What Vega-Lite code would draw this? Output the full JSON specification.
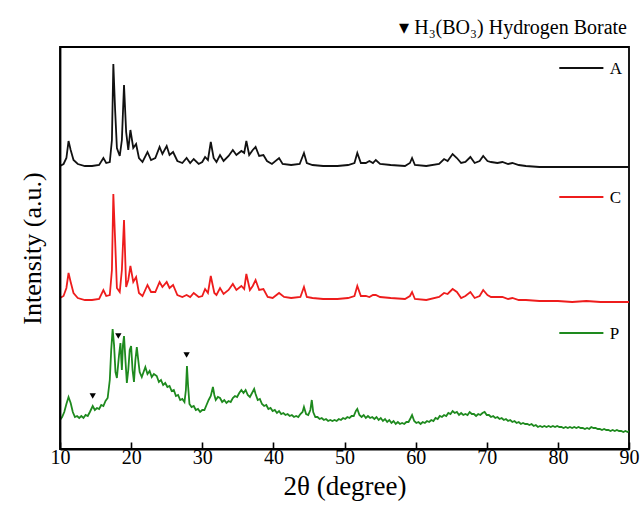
{
  "$schema": "https://vega.github.io/schema/vega-lite/v6.json",
  "width": 569,
  "height": 402,
  "autosize": {"type": "none"},
  "padding": {"left": 60, "top": 47, "right": 15, "bottom": 71},
  "background": "white",
  "view": {"stroke": "black", "strokeWidth": 1.8},
  "config": {
    "font": "Liberation Serif",
    "axis": {"labelFont": "Liberation Serif", "titleFont": "Liberation Serif", "titleFontWeight": "normal"}
  },
  "title": {
    "text": "▾ H₃(BO₃) Hydrogen Borate",
    "anchor": "end",
    "font": "Liberation Serif",
    "fontSize": 20,
    "fontWeight": "normal",
    "color": "black",
    "offset": 9,
    "dx": -12
  },
  "datasets": {
    "spectra": [
      {"s":"A","t":10.0,"i":287},{"s":"A","t":10.5,"i":289},{"s":"A","t":10.9,"i":295},{"s":"A","t":11.2,"i":312},{"s":"A","t":11.5,"i":303},{"s":"A","t":11.9,"i":293},{"s":"A","t":12.5,"i":289},{"s":"A","t":13.5,"i":287},{"s":"A","t":14.5,"i":287},{"s":"A","t":15.5,"i":288},{"s":"A","t":16.1,"i":295},{"s":"A","t":16.5,"i":290},{"s":"A","t":17.0,"i":291},{"s":"A","t":17.3,"i":313},{"s":"A","t":17.5,"i":389},{"s":"A","t":17.75,"i":343},{"s":"A","t":18.0,"i":305},{"s":"A","t":18.4,"i":297},{"s":"A","t":18.7,"i":313},{"s":"A","t":19.0,"i":368},{"s":"A","t":19.3,"i":321},{"s":"A","t":19.6,"i":303},{"s":"A","t":19.9,"i":323},{"s":"A","t":20.3,"i":305},{"s":"A","t":20.7,"i":309},{"s":"A","t":21.1,"i":295},{"s":"A","t":21.6,"i":291},{"s":"A","t":22.3,"i":301},{"s":"A","t":22.8,"i":293},{"s":"A","t":23.4,"i":295},{"s":"A","t":24.0,"i":306},{"s":"A","t":24.4,"i":299},{"s":"A","t":25.0,"i":307},{"s":"A","t":25.4,"i":298},{"s":"A","t":25.9,"i":301},{"s":"A","t":26.5,"i":292},{"s":"A","t":27.2,"i":290},{"s":"A","t":27.8,"i":295},{"s":"A","t":28.3,"i":290},{"s":"A","t":28.8,"i":294},{"s":"A","t":29.5,"i":289},{"s":"A","t":30.0,"i":291},{"s":"A","t":30.4,"i":296},{"s":"A","t":30.8,"i":293},{"s":"A","t":31.2,"i":311},{"s":"A","t":31.6,"i":295},{"s":"A","t":32.0,"i":291},{"s":"A","t":32.5,"i":298},{"s":"A","t":33.0,"i":292},{"s":"A","t":33.7,"i":297},{"s":"A","t":34.3,"i":303},{"s":"A","t":34.8,"i":298},{"s":"A","t":35.5,"i":302},{"s":"A","t":35.9,"i":300},{"s":"A","t":36.2,"i":312},{"s":"A","t":36.6,"i":298},{"s":"A","t":37.1,"i":303},{"s":"A","t":37.5,"i":306},{"s":"A","t":38.0,"i":297},{"s":"A","t":38.6,"i":298},{"s":"A","t":39.1,"i":292},{"s":"A","t":39.8,"i":289},{"s":"A","t":40.8,"i":295},{"s":"A","t":41.3,"i":289},{"s":"A","t":42.5,"i":288},{"s":"A","t":43.7,"i":289},{"s":"A","t":44.3,"i":300},{"s":"A","t":44.7,"i":290},{"s":"A","t":45.5,"i":288},{"s":"A","t":47.0,"i":287},{"s":"A","t":49.0,"i":287},{"s":"A","t":50.5,"i":288},{"s":"A","t":51.4,"i":290},{"s":"A","t":51.8,"i":300},{"s":"A","t":52.3,"i":290},{"s":"A","t":53.0,"i":290},{"s":"A","t":53.5,"i":292},{"s":"A","t":54.0,"i":290},{"s":"A","t":54.4,"i":293},{"s":"A","t":55.0,"i":289},{"s":"A","t":56.5,"i":288},{"s":"A","t":58.5,"i":287},{"s":"A","t":59.2,"i":290},{"s":"A","t":59.5,"i":295},{"s":"A","t":59.9,"i":288},{"s":"A","t":61.5,"i":287},{"s":"A","t":63.3,"i":289},{"s":"A","t":64.0,"i":294},{"s":"A","t":64.5,"i":292},{"s":"A","t":65.2,"i":299},{"s":"A","t":65.8,"i":295},{"s":"A","t":66.4,"i":290},{"s":"A","t":67.0,"i":291},{"s":"A","t":67.7,"i":296},{"s":"A","t":68.3,"i":290},{"s":"A","t":69.0,"i":292},{"s":"A","t":69.5,"i":297},{"s":"A","t":70.1,"i":292},{"s":"A","t":70.6,"i":291},{"s":"A","t":71.5,"i":290},{"s":"A","t":72.2,"i":291},{"s":"A","t":73.0,"i":289},{"s":"A","t":73.6,"i":290},{"s":"A","t":74.5,"i":288},{"s":"A","t":75.5,"i":287},{"s":"A","t":77.4,"i":286},{"s":"A","t":80.0,"i":286},{"s":"A","t":83.0,"i":286},{"s":"A","t":86.0,"i":286},{"s":"A","t":90.0,"i":286},
      {"s":"C","t":10.0,"i":155},{"s":"C","t":10.5,"i":157},{"s":"C","t":10.9,"i":165},{"s":"C","t":11.2,"i":180},{"s":"C","t":11.5,"i":171},{"s":"C","t":11.9,"i":160},{"s":"C","t":12.5,"i":155},{"s":"C","t":13.5,"i":153},{"s":"C","t":14.5,"i":153},{"s":"C","t":15.5,"i":154},{"s":"C","t":16.1,"i":163},{"s":"C","t":16.5,"i":157},{"s":"C","t":17.0,"i":158},{"s":"C","t":17.3,"i":183},{"s":"C","t":17.5,"i":259},{"s":"C","t":17.75,"i":213},{"s":"C","t":18.0,"i":165},{"s":"C","t":18.4,"i":161},{"s":"C","t":18.7,"i":183},{"s":"C","t":19.0,"i":233},{"s":"C","t":19.3,"i":166},{"s":"C","t":19.6,"i":173},{"s":"C","t":19.9,"i":187},{"s":"C","t":20.3,"i":171},{"s":"C","t":20.7,"i":176},{"s":"C","t":21.1,"i":160},{"s":"C","t":21.6,"i":157},{"s":"C","t":22.3,"i":168},{"s":"C","t":22.8,"i":161},{"s":"C","t":23.4,"i":161},{"s":"C","t":24.0,"i":171},{"s":"C","t":24.4,"i":166},{"s":"C","t":25.0,"i":171},{"s":"C","t":25.4,"i":165},{"s":"C","t":25.9,"i":168},{"s":"C","t":26.5,"i":158},{"s":"C","t":27.2,"i":156},{"s":"C","t":27.8,"i":158},{"s":"C","t":28.3,"i":156},{"s":"C","t":28.8,"i":160},{"s":"C","t":29.5,"i":156},{"s":"C","t":30.0,"i":157},{"s":"C","t":30.4,"i":164},{"s":"C","t":30.8,"i":160},{"s":"C","t":31.2,"i":177},{"s":"C","t":31.7,"i":160},{"s":"C","t":32.0,"i":158},{"s":"C","t":32.5,"i":165},{"s":"C","t":33.0,"i":159},{"s":"C","t":33.7,"i":163},{"s":"C","t":34.3,"i":169},{"s":"C","t":34.8,"i":163},{"s":"C","t":35.5,"i":167},{"s":"C","t":35.9,"i":164},{"s":"C","t":36.2,"i":179},{"s":"C","t":36.7,"i":163},{"s":"C","t":37.1,"i":167},{"s":"C","t":37.5,"i":173},{"s":"C","t":38.0,"i":163},{"s":"C","t":38.6,"i":164},{"s":"C","t":39.2,"i":156},{"s":"C","t":39.9,"i":155},{"s":"C","t":40.8,"i":160},{"s":"C","t":41.5,"i":156},{"s":"C","t":42.5,"i":155},{"s":"C","t":43.8,"i":156},{"s":"C","t":44.3,"i":166},{"s":"C","t":44.7,"i":156},{"s":"C","t":45.5,"i":155},{"s":"C","t":47.0,"i":154},{"s":"C","t":49.0,"i":154},{"s":"C","t":50.5,"i":155},{"s":"C","t":51.4,"i":157},{"s":"C","t":51.8,"i":167},{"s":"C","t":52.3,"i":157},{"s":"C","t":53.0,"i":157},{"s":"C","t":53.5,"i":156},{"s":"C","t":54.0,"i":158},{"s":"C","t":54.4,"i":158},{"s":"C","t":55.0,"i":156},{"s":"C","t":56.5,"i":155},{"s":"C","t":58.5,"i":154},{"s":"C","t":59.2,"i":157},{"s":"C","t":59.5,"i":161},{"s":"C","t":59.9,"i":154},{"s":"C","t":61.5,"i":153},{"s":"C","t":63.3,"i":156},{"s":"C","t":64.0,"i":160},{"s":"C","t":64.5,"i":159},{"s":"C","t":65.2,"i":164},{"s":"C","t":65.8,"i":161},{"s":"C","t":66.4,"i":155},{"s":"C","t":67.0,"i":157},{"s":"C","t":67.7,"i":161},{"s":"C","t":68.3,"i":155},{"s":"C","t":69.0,"i":157},{"s":"C","t":69.5,"i":163},{"s":"C","t":70.1,"i":158},{"s":"C","t":70.6,"i":156},{"s":"C","t":71.5,"i":156},{"s":"C","t":72.2,"i":156},{"s":"C","t":73.0,"i":154},{"s":"C","t":73.6,"i":155},{"s":"C","t":74.5,"i":153},{"s":"C","t":75.5,"i":153},{"s":"C","t":77.4,"i":152},{"s":"C","t":80.0,"i":152},{"s":"C","t":82.0,"i":151},{"s":"C","t":84.0,"i":152},{"s":"C","t":86.0,"i":151},{"s":"C","t":90.0,"i":151},
      {"s":"P","t":10.0,"i":33},{"s":"P","t":10.3,"i":36},{"s":"P","t":10.6,"i":41},{"s":"P","t":10.9,"i":49},{"s":"P","t":11.2,"i":56},{"s":"P","t":11.5,"i":50},{"s":"P","t":11.8,"i":41},{"s":"P","t":12.1,"i":36},{"s":"P","t":12.4,"i":37},{"s":"P","t":12.7,"i":35},{"s":"P","t":13.0,"i":37},{"s":"P","t":13.3,"i":35},{"s":"P","t":13.6,"i":38},{"s":"P","t":13.9,"i":37},{"s":"P","t":14.2,"i":41},{"s":"P","t":14.6,"i":47},{"s":"P","t":14.9,"i":43},{"s":"P","t":15.2,"i":45},{"s":"P","t":15.5,"i":44},{"s":"P","t":15.8,"i":48},{"s":"P","t":16.1,"i":47},{"s":"P","t":16.4,"i":52},{"s":"P","t":16.7,"i":55},{"s":"P","t":17.0,"i":73},{"s":"P","t":17.2,"i":103},{"s":"P","t":17.4,"i":124},{"s":"P","t":17.6,"i":108},{"s":"P","t":17.8,"i":81},{"s":"P","t":18.0,"i":75},{"s":"P","t":18.3,"i":98},{"s":"P","t":18.5,"i":110},{"s":"P","t":18.7,"i":83},{"s":"P","t":18.85,"i":108},{"s":"P","t":19.0,"i":117},{"s":"P","t":19.2,"i":93},{"s":"P","t":19.4,"i":70},{"s":"P","t":19.6,"i":83},{"s":"P","t":19.8,"i":103},{"s":"P","t":20.0,"i":107},{"s":"P","t":20.2,"i":83},{"s":"P","t":20.4,"i":71},{"s":"P","t":20.6,"i":93},{"s":"P","t":20.8,"i":106},{"s":"P","t":21.0,"i":93},{"s":"P","t":21.2,"i":81},{"s":"P","t":21.5,"i":76},{"s":"P","t":21.8,"i":82},{"s":"P","t":22.0,"i":86},{"s":"P","t":22.3,"i":79},{"s":"P","t":22.6,"i":82},{"s":"P","t":22.9,"i":76},{"s":"P","t":23.2,"i":79},{"s":"P","t":23.6,"i":77},{"s":"P","t":23.9,"i":71},{"s":"P","t":24.2,"i":73},{"s":"P","t":24.5,"i":68},{"s":"P","t":24.8,"i":70},{"s":"P","t":25.1,"i":66},{"s":"P","t":25.4,"i":67},{"s":"P","t":25.7,"i":62},{"s":"P","t":26.0,"i":63},{"s":"P","t":26.3,"i":57},{"s":"P","t":26.6,"i":58},{"s":"P","t":26.9,"i":53},{"s":"P","t":27.2,"i":54},{"s":"P","t":27.5,"i":51},{"s":"P","t":27.7,"i":63},{"s":"P","t":27.85,"i":87},{"s":"P","t":28.0,"i":68},{"s":"P","t":28.2,"i":49},{"s":"P","t":28.5,"i":46},{"s":"P","t":28.8,"i":47},{"s":"P","t":29.1,"i":43},{"s":"P","t":29.4,"i":44},{"s":"P","t":29.7,"i":41},{"s":"P","t":30.0,"i":43},{"s":"P","t":30.3,"i":43},{"s":"P","t":30.6,"i":48},{"s":"P","t":30.9,"i":53},{"s":"P","t":31.2,"i":57},{"s":"P","t":31.5,"i":66},{"s":"P","t":31.7,"i":58},{"s":"P","t":31.9,"i":53},{"s":"P","t":32.2,"i":56},{"s":"P","t":32.5,"i":55},{"s":"P","t":32.8,"i":51},{"s":"P","t":33.1,"i":53},{"s":"P","t":33.4,"i":50},{"s":"P","t":33.7,"i":52},{"s":"P","t":34.0,"i":51},{"s":"P","t":34.3,"i":55},{"s":"P","t":34.6,"i":57},{"s":"P","t":34.9,"i":56},{"s":"P","t":35.2,"i":60},{"s":"P","t":35.5,"i":63},{"s":"P","t":35.8,"i":60},{"s":"P","t":36.1,"i":63},{"s":"P","t":36.4,"i":58},{"s":"P","t":36.7,"i":56},{"s":"P","t":37.0,"i":60},{"s":"P","t":37.3,"i":64},{"s":"P","t":37.5,"i":59},{"s":"P","t":37.8,"i":53},{"s":"P","t":38.1,"i":54},{"s":"P","t":38.4,"i":49},{"s":"P","t":38.7,"i":47},{"s":"P","t":39.0,"i":48},{"s":"P","t":39.3,"i":44},{"s":"P","t":39.6,"i":45},{"s":"P","t":39.9,"i":42},{"s":"P","t":40.2,"i":43},{"s":"P","t":40.5,"i":40},{"s":"P","t":40.8,"i":42},{"s":"P","t":41.1,"i":39},{"s":"P","t":41.4,"i":40},{"s":"P","t":41.7,"i":38},{"s":"P","t":42.0,"i":39},{"s":"P","t":42.3,"i":37},{"s":"P","t":42.6,"i":38},{"s":"P","t":42.9,"i":36},{"s":"P","t":43.2,"i":37},{"s":"P","t":43.5,"i":36},{"s":"P","t":43.8,"i":39},{"s":"P","t":44.1,"i":41},{"s":"P","t":44.3,"i":46},{"s":"P","t":44.6,"i":39},{"s":"P","t":44.9,"i":38},{"s":"P","t":45.2,"i":43},{"s":"P","t":45.4,"i":53},{"s":"P","t":45.6,"i":41},{"s":"P","t":45.9,"i":36},{"s":"P","t":46.2,"i":36},{"s":"P","t":46.5,"i":34},{"s":"P","t":46.8,"i":35},{"s":"P","t":47.1,"i":33},{"s":"P","t":47.4,"i":34},{"s":"P","t":47.7,"i":32},{"s":"P","t":48.0,"i":33},{"s":"P","t":48.3,"i":32},{"s":"P","t":48.6,"i":33},{"s":"P","t":48.9,"i":32},{"s":"P","t":49.2,"i":34},{"s":"P","t":49.5,"i":33},{"s":"P","t":49.8,"i":35},{"s":"P","t":50.1,"i":34},{"s":"P","t":50.4,"i":36},{"s":"P","t":50.7,"i":35},{"s":"P","t":51.0,"i":37},{"s":"P","t":51.3,"i":37},{"s":"P","t":51.6,"i":42},{"s":"P","t":51.8,"i":44},{"s":"P","t":52.1,"i":38},{"s":"P","t":52.4,"i":36},{"s":"P","t":52.7,"i":38},{"s":"P","t":53.0,"i":35},{"s":"P","t":53.3,"i":37},{"s":"P","t":53.6,"i":35},{"s":"P","t":53.9,"i":36},{"s":"P","t":54.2,"i":34},{"s":"P","t":54.5,"i":36},{"s":"P","t":54.8,"i":33},{"s":"P","t":55.1,"i":35},{"s":"P","t":55.4,"i":32},{"s":"P","t":55.7,"i":34},{"s":"P","t":56.0,"i":31},{"s":"P","t":56.3,"i":33},{"s":"P","t":56.6,"i":30},{"s":"P","t":56.9,"i":32},{"s":"P","t":57.2,"i":29},{"s":"P","t":57.5,"i":31},{"s":"P","t":57.8,"i":29},{"s":"P","t":58.1,"i":30},{"s":"P","t":58.4,"i":29},{"s":"P","t":58.7,"i":31},{"s":"P","t":59.0,"i":31},{"s":"P","t":59.3,"i":35},{"s":"P","t":59.5,"i":38},{"s":"P","t":59.8,"i":32},{"s":"P","t":60.1,"i":30},{"s":"P","t":60.4,"i":31},{"s":"P","t":60.7,"i":29},{"s":"P","t":61.0,"i":31},{"s":"P","t":61.3,"i":30},{"s":"P","t":61.6,"i":32},{"s":"P","t":61.9,"i":31},{"s":"P","t":62.2,"i":33},{"s":"P","t":62.5,"i":32},{"s":"P","t":62.8,"i":35},{"s":"P","t":63.1,"i":34},{"s":"P","t":63.4,"i":37},{"s":"P","t":63.7,"i":36},{"s":"P","t":64.0,"i":38},{"s":"P","t":64.3,"i":37},{"s":"P","t":64.6,"i":40},{"s":"P","t":64.9,"i":39},{"s":"P","t":65.2,"i":42},{"s":"P","t":65.5,"i":40},{"s":"P","t":65.8,"i":41},{"s":"P","t":66.1,"i":38},{"s":"P","t":66.4,"i":40},{"s":"P","t":66.7,"i":38},{"s":"P","t":67.0,"i":39},{"s":"P","t":67.3,"i":38},{"s":"P","t":67.6,"i":41},{"s":"P","t":67.9,"i":39},{"s":"P","t":68.2,"i":39},{"s":"P","t":68.5,"i":37},{"s":"P","t":68.8,"i":39},{"s":"P","t":69.1,"i":38},{"s":"P","t":69.4,"i":40},{"s":"P","t":69.7,"i":41},{"s":"P","t":70.0,"i":38},{"s":"P","t":70.3,"i":38},{"s":"P","t":70.6,"i":36},{"s":"P","t":70.9,"i":37},{"s":"P","t":71.2,"i":35},{"s":"P","t":71.5,"i":36},{"s":"P","t":71.8,"i":34},{"s":"P","t":72.1,"i":35},{"s":"P","t":72.4,"i":33},{"s":"P","t":72.7,"i":34},{"s":"P","t":73.0,"i":32},{"s":"P","t":73.3,"i":33},{"s":"P","t":73.6,"i":31},{"s":"P","t":73.9,"i":32},{"s":"P","t":74.2,"i":30},{"s":"P","t":74.5,"i":31},{"s":"P","t":74.8,"i":29},{"s":"P","t":75.1,"i":30},{"s":"P","t":75.4,"i":29},{"s":"P","t":75.7,"i":29},{"s":"P","t":76.0,"i":28},{"s":"P","t":76.3,"i":29},{"s":"P","t":76.6,"i":27},{"s":"P","t":76.9,"i":28},{"s":"P","t":77.2,"i":26},{"s":"P","t":77.5,"i":27},{"s":"P","t":77.8,"i":26},{"s":"P","t":78.1,"i":27},{"s":"P","t":78.4,"i":26},{"s":"P","t":78.7,"i":27},{"s":"P","t":79.0,"i":26},{"s":"P","t":79.3,"i":27},{"s":"P","t":79.6,"i":26},{"s":"P","t":79.9,"i":27},{"s":"P","t":80.2,"i":26},{"s":"P","t":80.5,"i":26},{"s":"P","t":80.8,"i":25},{"s":"P","t":81.1,"i":26},{"s":"P","t":81.4,"i":25},{"s":"P","t":81.7,"i":26},{"s":"P","t":82.0,"i":25},{"s":"P","t":82.3,"i":26},{"s":"P","t":82.6,"i":25},{"s":"P","t":82.9,"i":26},{"s":"P","t":83.2,"i":25},{"s":"P","t":83.5,"i":25},{"s":"P","t":83.8,"i":24},{"s":"P","t":84.1,"i":25},{"s":"P","t":84.4,"i":24},{"s":"P","t":84.7,"i":26},{"s":"P","t":85.0,"i":25},{"s":"P","t":85.3,"i":25},{"s":"P","t":85.6,"i":24},{"s":"P","t":85.9,"i":24},{"s":"P","t":86.2,"i":23},{"s":"P","t":86.5,"i":24},{"s":"P","t":86.8,"i":23},{"s":"P","t":87.1,"i":23},{"s":"P","t":87.4,"i":22},{"s":"P","t":87.7,"i":23},{"s":"P","t":88.0,"i":22},{"s":"P","t":88.3,"i":23},{"s":"P","t":88.6,"i":22},{"s":"P","t":88.9,"i":22},{"s":"P","t":89.2,"i":21},{"s":"P","t":89.5,"i":22},{"s":"P","t":89.8,"i":21},{"s":"P","t":90.0,"i":22}
    ],
    "markers": [
      {"t": 14.6, "i": 57},
      {"t": 18.2, "i": 117},
      {"t": 27.8, "i": 98}
    ],
    "legend": [
      {"s": "A", "x1": 80.2, "x2": 86.4, "tx": 87.3, "i": 385},
      {"s": "C", "x1": 80.2, "x2": 86.4, "tx": 87.3, "i": 256},
      {"s": "P", "x1": 80.2, "x2": 86.4, "tx": 87.3, "i": 120}
    ]
  },
  "layer": [
    {
      "data": {"name": "spectra"},
      "mark": {"type": "line", "clip": true},
      "encoding": {
        "x": {
          "field": "t", "type": "quantitative",
          "scale": {"domain": [10, 90], "nice": false, "zero": false},
          "axis": {
            "orient": "bottom",
            "zindex": 2,
            "title": "2θ (degree)",
            "titleFont": "Liberation Serif", "titleFontSize": 27, "titleFontWeight": "normal", "titleColor": "black", "titlePadding": 6,
            "values": [10, 15, 20, 25, 30, 35, 40, 45, 50, 55, 60, 65, 70, 75, 80, 85, 90],
            "labelExpr": "datum.value % 10 == 0 ? datum.label : ''",
            "ticks": true, "tickSize": -7, "tickWidth": 1.6, "tickColor": "black", "tickOpacity": 1,
            "domain": true, "domainColor": "black", "domainWidth": 1.8, "grid": false,
            "labelFont": "Liberation Serif", "labelFontSize": 20, "labelColor": "black", "labelPadding": 5,
            "labelFlush": false, "labelOverlap": false,
            "encode": {
              "labels": {"update": {"font": {"value": "Liberation Serif"}}},
              "title": {"update": {"font": {"value": "Liberation Serif"}, "fontWeight": {"value": "normal"}}},
              "ticks": {"update": {"stroke": {"value": "black"}, "strokeWidth": {"value": 1.6}, "strokeOpacity": {"value": 1}}}
            }
          }
        },
        "y": {
          "field": "i", "type": "quantitative",
          "scale": {"domain": [4, 406], "nice": false, "zero": false},
          "axis": {
            "zindex": 2,
            "title": "Intensity (a.u.)",
            "titleFont": "Liberation Serif", "titleFontSize": 26, "titleFontWeight": "normal", "titleColor": "black", "titlePadding": 15,
            "labels": false, "ticks": false, "domain": true, "domainColor": "black", "domainWidth": 1.8, "grid": false,
            "encode": {
              "title": {"update": {"font": {"value": "Liberation Serif"}, "fontWeight": {"value": "normal"}}}
            }
          }
        },
        "color": {
          "field": "s", "type": "nominal",
          "scale": {"domain": ["A", "C", "P"], "range": ["#111111", "#ee1c1c", "#1e8a1e"]},
          "legend": null
        },
        "strokeWidth": {
          "field": "s", "type": "nominal",
          "scale": {"domain": ["A", "C", "P"], "range": [1.8, 1.8, 2.6]},
          "legend": null
        }
      }
    },
    {
      "data": {"name": "markers"},
      "mark": {"type": "point", "shape": "triangle-down", "filled": true, "color": "black", "size": 40, "opacity": 1},
      "encoding": {
        "x": {"field": "t", "type": "quantitative"},
        "y": {"field": "i", "type": "quantitative"}
      }
    },
    {
      "data": {"name": "legend"},
      "mark": {"type": "rule", "strokeWidth": 2},
      "encoding": {
        "x": {"field": "x1", "type": "quantitative"},
        "x2": {"field": "x2"},
        "y": {"field": "i", "type": "quantitative"},
        "color": {"field": "s", "type": "nominal", "legend": null}
      }
    },
    {
      "data": {"name": "legend"},
      "mark": {"type": "text", "align": "left", "baseline": "middle", "font": "Liberation Serif", "fontSize": 17, "color": "black", "dy": 1},
      "encoding": {
        "x": {"field": "tx", "type": "quantitative"},
        "y": {"field": "i", "type": "quantitative"},
        "text": {"field": "s"}
      }
    }
  ]
}
